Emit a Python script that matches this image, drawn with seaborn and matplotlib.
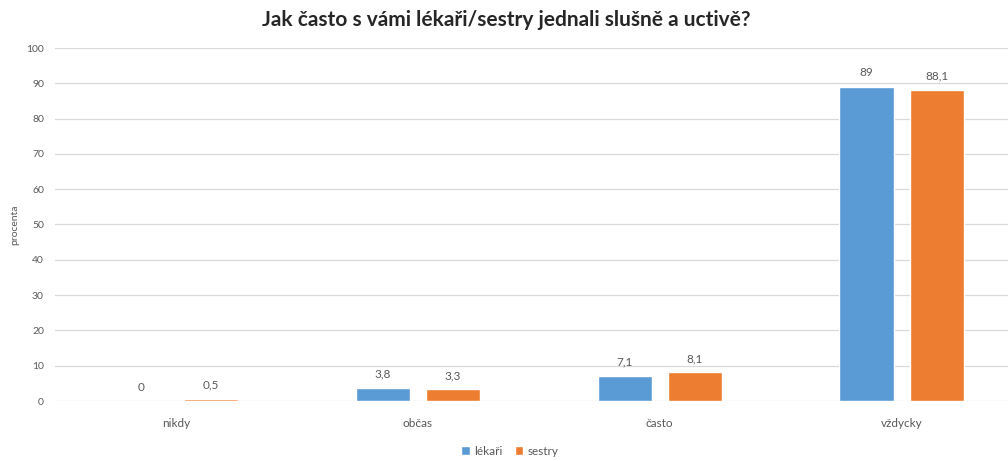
import matplotlib
matplotlib.use("Agg")
import matplotlib.pyplot as plt
import seaborn as sns
import pandas as pd

categories = ["nikdy", "občas", "často", "vždycky"]
lekari = [0, 3.8, 7.1, 89]
sestry = [0.5, 3.3, 8.1, 88.1]
series_names = ["lékaři", "sestry"]
yticks = list(range(0, 101, 10))

df = pd.DataFrame({
    "kategorie": categories * 2,
    "procenta": lekari + sestry,
    "skupina": [series_names[0]] * 4 + [series_names[1]] * 4,
})

sns.set_theme(style="white")
plt.rcParams["font.family"] = ["Lato", "DejaVu Sans"]

fig = plt.figure(figsize=(10.08, 4.61), dpi=100)
ax = fig.add_axes([55 / 1008, 60 / 461, 1 - 55 / 1008, 353 / 461])

sns.barplot(data=df, x="kategorie", y="procenta", hue="skupina",
            palette=["#5B9BD5", "#ED7D31"], width=0.58, gap=0.23,
            saturation=1, ax=ax, zorder=3)

for cont in ax.containers:
    labels = [f"{v:g}".replace(".", ",") for v in cont.datavalues]
    ax.bar_label(cont, labels=labels, padding=6, fontsize=8.5, color="#595959")

ax.set_ylim(0, 100)
ax.set_xlim(-0.5, 3.44)
ax.set_yticks(yticks)
ax.set_yticklabels([str(t) for t in yticks])
ax.yaxis.grid(True, color="#D9D9D9", linewidth=0.9, zorder=0)
ax.tick_params(axis="y", labelsize=7.5, labelcolor="#595959", length=0, pad=8)
ax.tick_params(axis="x", labelsize=8.5, labelcolor="#595959", length=0, pad=12)
for s in ax.spines.values():
    s.set_visible(False)
ax.set_xlabel("")
ax.set_ylabel("procenta", fontsize=7.5, color="#595959")
ax.yaxis.set_label_coords(-36 / 953, 0.5)

ax.legend(loc="center", bbox_to_anchor=(510 / 1008, 10 / 461),
          bbox_transform=fig.transFigure, ncol=2, frameon=False,
          fontsize=8.5, handlelength=0.7, handleheight=0.7,
          handletextpad=0.4, columnspacing=1.0, labelcolor="#595959")

fig.suptitle("Jak často s vámi lékaři/sestry jednali slušně a uctivě?",
             x=506 / 1008, y=1 - 20 / 461, va="center",
             fontsize=15, fontweight="bold", color="#262626")

fig.savefig("out.png", dpi=100)
